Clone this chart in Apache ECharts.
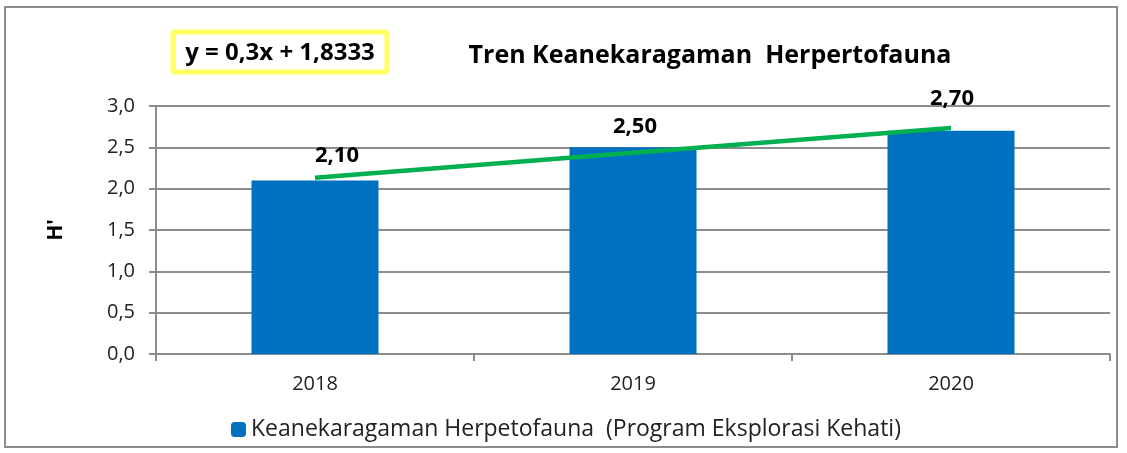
<!DOCTYPE html>
<html>
<head>
<meta charset="utf-8">
<script src="https://cdn.jsdelivr.net/npm/echarts@6/dist/echarts.min.js"></script>
<style>
  html, body { margin: 0; padding: 0; background: #fff; }
  #main { width: 1127px; height: 453px; }
</style>
</head>
<body>
<div id="main"></div>
<script>
var years = ["2018", "2019", "2020"];
var herpValues = [2.10, 2.50, 2.70];
var trendValues = [2.1333, 2.4333, 2.7333];
var labelOffsets = [[22, -4], [2, 0], [1, -11]];

var font = "'Open Sans', 'Noto Sans', sans-serif";
var chart = echarts.init(document.getElementById("main"));

var option = {
  animation: false,
  backgroundColor: "#fff",
  textStyle: { fontFamily: font },
  title: {
    text: "Tren Keanekaragaman  Herpertofauna",
    left: 705,
    top: 38,
    textAlign: "center",
    textStyle: { fontSize: 25, fontWeight: "bold", color: "#000", fontFamily: font }
  },
  graphic: [
    {
      type: "rect",
      shape: { x: 5, y: 7, width: 1112, height: 440 },
      style: { fill: "none", stroke: "#8c8c8c", lineWidth: 2 }
    },
    {
      type: "rect",
      shape: { x: 173, y: 32, width: 214, height: 40, r: 2 },
      style: { fill: "#fff", stroke: "#ffff66", lineWidth: 5 }
    },
    {
      type: "text",
      x: 280, y: 53,
      style: {
        text: "y = 0,3x + 1,8333",
        font: "bold 24px " + font,
        fill: "#000",
        textAlign: "center",
        textVerticalAlign: "middle"
      }
    }
  ],
  legend: {
    data: ["Keanekaragaman Herpetofauna  (Program Eksplorasi Kehati)"],
    left: 226,
    top: 413,
    itemWidth: 15,
    itemHeight: 15,
    itemGap: 6,
    textStyle: { fontSize: 23, color: "#222", fontFamily: font }
  },
  grid: { left: 156, right: 17, top: 106, bottom: 99 },
  xAxis: {
    type: "category",
    data: years,
    axisLine: { lineStyle: { color: "#8c8c8c", width: 2 } },
    axisTick: { show: true, length: 7, lineStyle: { color: "#8c8c8c", width: 2 } },
    axisLabel: { fontSize: 20, color: "#222", margin: 20, fontFamily: font }
  },
  yAxis: {
    type: "value",
    min: 0,
    max: 3,
    interval: 0.5,
    name: "H'",
    nameLocation: "middle",
    nameRotate: 90,
    nameGap: 89,
    nameTextStyle: { fontSize: 21, fontWeight: "bold", color: "#000", fontFamily: font },
    axisLine: { show: true, lineStyle: { color: "#8c8c8c", width: 2 } },
    axisTick: { show: true, length: 7, lineStyle: { color: "#8c8c8c", width: 2 } },
    splitLine: { lineStyle: { color: "#8c8c8c", width: 2 } },
    axisLabel: {
      fontSize: 20, color: "#222", margin: 21, fontFamily: font,
      formatter: function (v) { return v.toFixed(1).replace(".", ","); }
    }
  },
  series: [
    {
      name: "Keanekaragaman Herpetofauna  (Program Eksplorasi Kehati)",
      type: "bar",
      barWidth: 127,
      itemStyle: { color: "#0070C0" },
      data: herpValues.map(function (v, i) {
        return {
          value: v,
          label: { offset: labelOffsets[i] }
        };
      }),
      label: {
        show: true,
        position: "top",
        distance: 10,
        fontSize: 22,
        fontWeight: "bold",
        color: "#000",
        fontFamily: font,
        formatter: function (p) { return p.value.toFixed(2).replace(".", ","); }
      },
      z: 2
    },
    {
      name: "trend",
      type: "line",
      data: trendValues,
      symbol: "none",
      lineStyle: { color: "#00B050", width: 4.5 },
      silent: true,
      z: 3
    }
  ]
};

chart.setOption(option);
</script>
</body>
</html>
